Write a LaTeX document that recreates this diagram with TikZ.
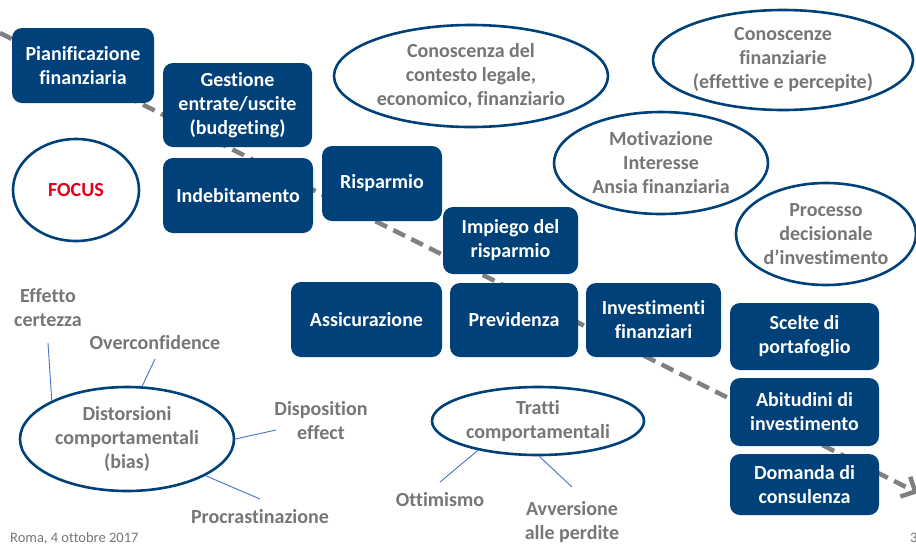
\documentclass[tikz,border=0pt]{standalone}
\usepackage{fontspec}
\setmainfont{Carlito}[Ligatures={NoCommon}]
\usetikzlibrary{shapes.geometric,arrows.meta}
\definecolor{navy}{RGB}{0,65,122}
\definecolor{txtgray}{RGB}{118,118,118}
\definecolor{thinblue}{RGB}{68,114,196}
\definecolor{dashgray}{RGB}{128,128,128}
\definecolor{focusred}{RGB}{226,0,26}
\tikzset{
  bigfont/.style={font=\bfseries\fontsize{20}{24}\selectfont},
  bluebox/.style={bigfont, rectangle, rounded corners=10pt, fill=navy, text=white, inner sep=0pt, align=center},
  oval/.style={bigfont, ellipse, draw=navy, line width=2.6pt, fill=white, text=txtgray, inner sep=0pt, align=center},
  graylabel/.style={bigfont, text=txtgray, inner sep=0pt, align=center},
  thinline/.style={draw=thinblue, line width=0.9pt},
  pathline/.style={draw=dashgray, line width=4.5pt, dash pattern=on 13pt off 7pt, -{Straight Barb[length=11pt,width=22pt]}}
}
\begin{document}
\begin{tikzpicture}[x=1pt,y=-1pt]
\useasboundingbox (0,0) rectangle (916,547);
% main dashed path
\coordinate (dstart) at (0,33);
\coordinate (dend) at (918,493);
\draw[pathline] (dstart) -- (dend);

% blue boxes
\node[bluebox, minimum width=142pt, minimum height=75pt] (pian) at (83,65.5) {Pianificazione\\finanziaria};
\node[bluebox, minimum width=149pt, minimum height=84pt] (gest) at (237.5,105) {Gestione\\entrate/uscite\\(budgeting)};
\node[bluebox, minimum width=150pt, minimum height=75pt] (indeb) at (238,195.5) {Indebitamento};
\node[bluebox, minimum width=120pt, minimum height=75pt] (risp) at (382,183.5) {Risparmio};
\node[bluebox, minimum width=135pt, minimum height=67pt] (impiego) at (510.5,240.5) {Impiego del\\risparmio};
\node[bluebox, minimum width=151pt, minimum height=75pt] (assic) at (366.5,319.5) {Assicurazione};
\node[bluebox, minimum width=128pt, minimum height=74pt] (previd) at (514,320) {Previdenza};
\node[bluebox, minimum width=135pt, minimum height=74pt] (invest) at (653.5,320) {Investimenti\\finanziari};
\node[bluebox, minimum width=149pt, minimum height=67pt] (scelte) at (804.5,336.5) {Scelte di\\portafoglio};
\node[bluebox, minimum width=149pt, minimum height=68pt] (abit) at (804.5,412) {Abitudini di\\investimento};
\node[bluebox, minimum width=149pt, minimum height=61pt] (domanda) at (804.5,484.5) {Domanda di\\consulenza};

% ellipses
\node[oval, text=focusred, minimum width=126pt, minimum height=102pt] (focus) at (76,190) {FOCUS};
\node[oval, minimum width=274pt, minimum height=102pt] (contesto) at (471,76) {Conoscenza del\\contesto legale,\\economico, finanziario};
\node[oval, minimum width=260pt, minimum height=100pt] (conosc) at (783,60) {Conoscenze\\finanziarie\\(effettive e percepite)};
\node[oval, minimum width=214pt, minimum height=102pt] (motiv) at (661,163) {Motivazione\\Interesse\\Ansia finanziaria};
\node[oval, minimum width=180pt, minimum height=102pt] (processo) at (826,234) {Processo\\decisionale\\d’investimento};
\node[oval, minimum width=212pt, minimum height=68pt] (tratti) at (538,421) {Tratti\\comportamentali};
\node[oval, minimum width=214pt, minimum height=104pt] (distors) at (127,439) {Distorsioni\\comportamentali\\(bias)};

% gray labels
\node[graylabel] (effetto) at (48,308) {Effetto\\certezza};
\node[graylabel] (overconf) at (155,343) {Overconfidence};
\node[graylabel] (disposition) at (321,421) {Disposition\\effect};
\node[graylabel] (procr) at (260,517) {Procrastinazione};
\node[graylabel] (ottim) at (440,500) {Ottimismo};
\node[graylabel] (avvers) at (572,522) {Avversione\\alle perdite};

% thin connectors
\coordinate (cEff) at (48,343);
\coordinate (cOver) at (155,359);
\coordinate (cDisp) at (276,430);
\coordinate (cProc) at (260,499);
\coordinate (cOtt) at (440,482);
\coordinate (cAvv) at (572,487);
\draw[thinline] (distors.153) -- (cEff);
\draw[thinline] (distors.74) -- (cOver);
\draw[thinline] (distors.0) -- (cDisp);
\draw[thinline] (distors.-25) -- (cProc);
\draw[thinline] (tratti.206) -- (cOtt);
\draw[thinline] (tratti.-88) -- (cAvv);

% footer
\node[anchor=west, inner sep=0pt, text=txtgray, font=\fontsize{14.5}{17}\selectfont] (footer) at (10,538) {Roma, 4 ottobre 2017};
\node[anchor=west, inner sep=0pt, text=txtgray, font=\fontsize{14.5}{17}\selectfont] (pagenum) at (910,538) {3};
\end{tikzpicture}
\end{document}
